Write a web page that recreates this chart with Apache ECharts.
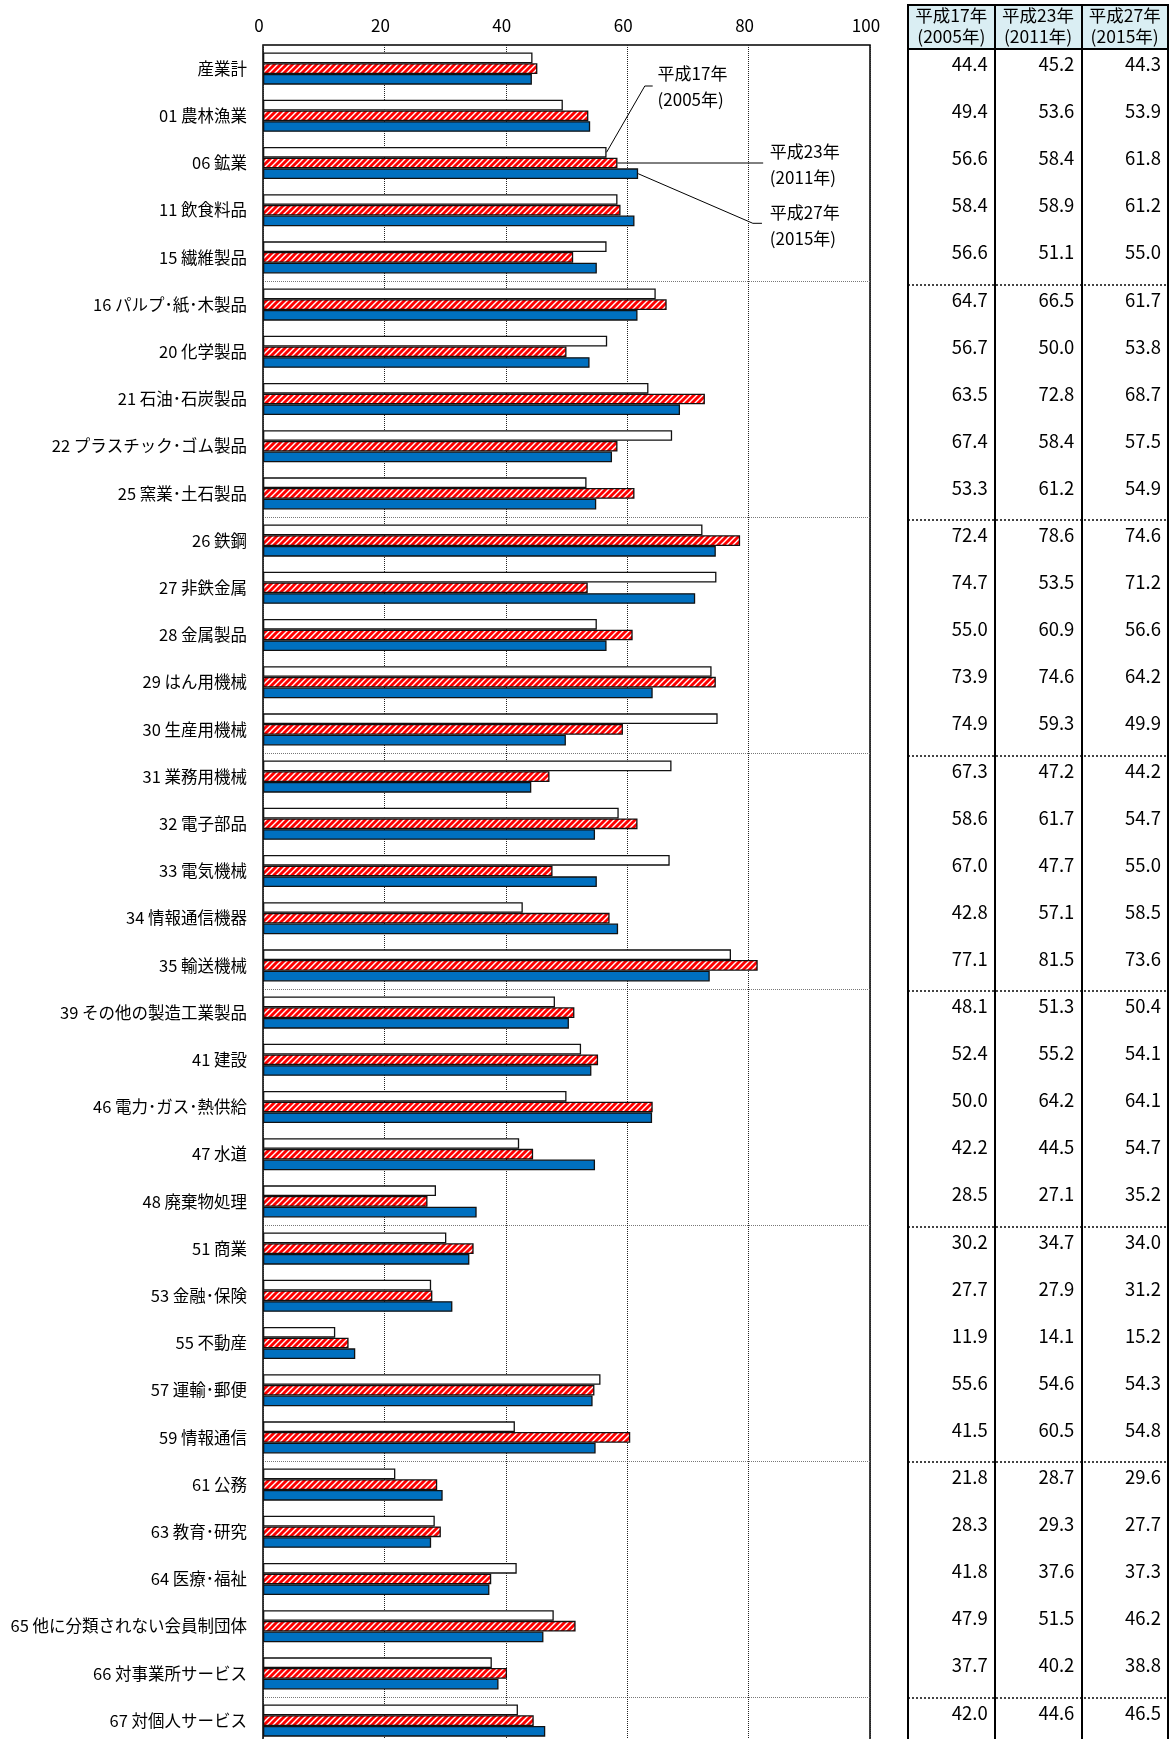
<!DOCTYPE html>
<html lang="ja">
<head>
<meta charset="utf-8">
<title>産業別 比率</title>
<script src="https://cdn.jsdelivr.net/npm/echarts@6/dist/echarts.min.js"></script>
<style>
html, body { margin: 0; padding: 0; background: #ffffff; }
#main { width: 1171px; height: 1739px; }
</style>
</head>
<body>
<div id="main"></div>
<script>
const categories = [
  '産業計', '01 農林漁業', '06 鉱業', '11 飲食料品', '15 繊維製品',
  '16 パルプ･紙･木製品', '20 化学製品', '21 石油･石炭製品', '22 プラスチック･ゴム製品', '25 窯業･土石製品',
  '26 鉄鋼', '27 非鉄金属', '28 金属製品', '29 はん用機械', '30 生産用機械',
  '31 業務用機械', '32 電子部品', '33 電気機械', '34 情報通信機器', '35 輸送機械',
  '39 その他の製造工業製品', '41 建設', '46 電力･ガス･熱供給', '47 水道', '48 廃棄物処理',
  '51 商業', '53 金融･保険', '55 不動産', '57 運輸･郵便', '59 情報通信',
  '61 公務', '63 教育･研究', '64 医療･福祉', '65 他に分類されない会員制団体', '66 対事業所サービス',
  '67 対個人サービス'
]
const v2005 = [
  44.4, 49.4, 56.6, 58.4, 56.6,
  64.7, 56.7, 63.5, 67.4, 53.3,
  72.4, 74.7, 55.0, 73.9, 74.9,
  67.3, 58.6, 67.0, 42.8, 77.1,
  48.1, 52.4, 50.0, 42.2, 28.5,
  30.2, 27.7, 11.9, 55.6, 41.5,
  21.8, 28.3, 41.8, 47.9, 37.7,
  42.0
]
const v2011 = [
  45.2, 53.6, 58.4, 58.9, 51.1,
  66.5, 50.0, 72.8, 58.4, 61.2,
  78.6, 53.5, 60.9, 74.6, 59.3,
  47.2, 61.7, 47.7, 57.1, 81.5,
  51.3, 55.2, 64.2, 44.5, 27.1,
  34.7, 27.9, 14.1, 54.6, 60.5,
  28.7, 29.3, 37.6, 51.5, 40.2,
  44.6
]
const v2015 = [
  44.3, 53.9, 61.8, 61.2, 55.0,
  61.7, 53.8, 68.7, 57.5, 54.9,
  74.6, 71.2, 56.6, 64.2, 49.9,
  44.2, 54.7, 55.0, 58.5, 73.6,
  50.4, 54.1, 64.1, 54.7, 35.2,
  34.0, 31.2, 15.2, 54.3, 54.8,
  29.6, 27.7, 37.3, 46.2, 38.8,
  46.5
]
const headerEra = ['平成17年', '平成23年', '平成27年']
const headerYear = ['(2005年)', '(2011年)', '(2015年)']

const FONT = 'Noto Sans CJK JP'
const BAR_W = 10.7

// 赤白の斜線ハッチ
const makeHatch = () => {
  const c = document.createElement('canvas')
  c.width = 6
  c.height = 6
  const ctx = c.getContext('2d')
  ctx.fillStyle = '#ff0000'
  ctx.fillRect(0, 0, 6, 6)
  ctx.strokeStyle = '#ffffff'
  ctx.lineWidth = 1.4
  ctx.beginPath()
  ctx.moveTo(-1, 7); ctx.lineTo(7, -1)
  ctx.moveTo(-1, 1); ctx.lineTo(1, -1)
  ctx.moveTo(5, 7); ctx.lineTo(7, 5)
  ctx.stroke()
  return c
}

const sepInterval = (i) => i > 0 && i % 5 === 0

const tableData = []
categories.forEach((name, r) => {
  tableData.push([0, r, v2005[r]])
  tableData.push([1, r, v2011[r]])
  tableData.push([2, r, v2015[r]])
})

const chart = echarts.init(document.getElementById('main'))

const option = {
  animation: false,
  backgroundColor: '#ffffff',
  textStyle: { fontFamily: FONT, color: '#000' },
  grid: [
    { // グラフ
      left: 263, top: 45, width: 607, height: 36 * 47.2,
      show: true, borderColor: '#000', borderWidth: 1.5,
      outerBoundsMode: 'none', containLabel: false
    },
    { // 表
      left: 908, top: 49, width: 260, height: 36 * 47.1,
      show: false, outerBoundsMode: 'none', containLabel: false
    },
    { // 表の見出し
      left: 908, top: 5, width: 260, height: 44,
      show: true, backgroundColor: '#DAEEF3', borderColor: '#000', borderWidth: 2,
      outerBoundsMode: 'none', containLabel: false
    }
  ],
  xAxis: [
    {
      type: 'value', gridIndex: 0, position: 'top',
      min: 0, max: 100, interval: 20,
      axisLine: { show: false }, axisTick: { show: false },
      axisLabel: { color: '#000', fontSize: 17, margin: 11, fontFamily: FONT, padding: [0, 8, 0, 0] },
      splitLine: { show: true, lineStyle: { color: '#222', type: 'dotted', width: 1 } }
    },
    {
      type: 'category', gridIndex: 1, data: headerEra,
      axisLine: { show: false }, axisTick: { show: false }, axisLabel: { show: false },
      splitLine: { show: true, interval: 0, lineStyle: { color: '#000', width: 2 } }
    },
    {
      type: 'category', gridIndex: 2, data: headerEra,
      axisLine: { show: false }, axisTick: { show: false }, axisLabel: { show: false },
      splitLine: { show: true, interval: 0, lineStyle: { color: '#000', width: 2 } }
    }
  ],
  yAxis: [
    {
      type: 'category', gridIndex: 0, data: categories, inverse: true,
      axisLine: { show: false }, axisTick: { show: false },
      axisLabel: { interval: 0, margin: 16, color: '#000', fontSize: 16.5, fontFamily: FONT },
      splitLine: { show: true, interval: sepInterval, lineStyle: { color: '#777', type: 'dotted', width: 1 } }
    },
    {
      type: 'category', gridIndex: 1, data: categories, inverse: true,
      axisLine: { show: false }, axisTick: { show: false }, axisLabel: { show: false },
      splitLine: { show: true, interval: sepInterval, lineStyle: { color: '#444', type: 'dotted', width: 2 } }
    },
    {
      type: 'category', gridIndex: 2, data: ['h'],
      axisLine: { show: false }, axisTick: { show: false }, axisLabel: { show: false },
      splitLine: { show: false }
    }
  ],
  series: [
    {
      name: '平成17年(2005年)', type: 'bar', xAxisIndex: 0, yAxisIndex: 0,
      data: v2005, barWidth: BAR_W, barGap: '0%', silent: true,
      itemStyle: { color: '#ffffff', borderColor: '#111', borderWidth: 1.3 }
    },
    {
      name: '平成23年(2011年)', type: 'bar', xAxisIndex: 0, yAxisIndex: 0,
      data: v2011, barWidth: BAR_W, barGap: '0%', silent: true,
      itemStyle: { color: { image: makeHatch(), repeat: 'repeat' }, borderColor: '#111', borderWidth: 1.3 }
    },
    {
      name: '平成27年(2015年)', type: 'bar', xAxisIndex: 0, yAxisIndex: 0,
      data: v2015, barWidth: BAR_W, barGap: '0%', silent: true,
      itemStyle: { color: '#0070C0', borderColor: '#111', borderWidth: 1.3 }
    },
    {
      type: 'custom', xAxisIndex: 2, yAxisIndex: 2, silent: true,
      data: [[0, 0], [1, 0], [2, 0]],
      renderItem: (params, api) => {
        const c = api.coord([api.value(0), api.value(1)])
        const i = api.value(0)
        return {
          type: 'text',
          style: {
            text: headerEra[i] + '\n' + headerYear[i],
            x: c[0], y: c[1] - 1,
            align: 'center', verticalAlign: 'middle',
            lineHeight: 21, fontSize: 17.5, fontFamily: FONT, fill: '#000'
          }
        }
      }
    },
    {
      type: 'custom', xAxisIndex: 1, yAxisIndex: 1, silent: true,
      data: tableData,
      renderItem: (params, api) => {
        const c = api.coord([api.value(0), api.value(1)])
        const s = api.size([1, 1])
        return {
          type: 'text',
          style: {
            text: api.value(2).toFixed(1),
            x: c[0] + s[0] / 2 - 7, y: c[1] - s[1] / 2 + 15,
            align: 'right', verticalAlign: 'middle',
            fontSize: 18.5, fontFamily: FONT, fill: '#000'
          }
        }
      }
    }
  ]
}

chart.setOption(option)

// 引き出し線と注記（06 鉱業の行）
const row = 2
const toPx = (v, r) => chart.convertToPixel({ gridIndex: 0 }, [v, r])
const rowY = toPx(0, row)[1]
const xAt = (v) => toPx(v, row)[0]
const notes = [
  { text: headerEra[0] + '\n' + headerYear[0], pts: [[v2005[row], -BAR_W], [62.9, -77], [64.2, -77]], tx: 65.0, ty: -76 },
  { text: headerEra[1] + '\n' + headerYear[1], pts: [[v2011[row], 0], [82.4, 0]], tx: 83.5, ty: 1.5 },
  { text: headerEra[2] + '\n' + headerYear[2], pts: [[v2015[row], BAR_W], [80.7, 60.3], [82.2, 60.3]], tx: 83.5, ty: 62.5 }
]
const graphic = []
notes.forEach((n) => {
  graphic.push({
    type: 'polyline', silent: true, z: 100,
    shape: { points: n.pts.map((p) => [xAt(p[0]), rowY + p[1]]) },
    style: { stroke: '#000', lineWidth: 1, fill: null }
  })
  graphic.push({
    type: 'text', silent: true, z: 100,
    x: xAt(n.tx), y: rowY + n.ty,
    style: {
      text: n.text, align: 'left', verticalAlign: 'middle',
      lineHeight: 26, fontSize: 17, fontFamily: FONT, fill: '#000'
    }
  })
})
chart.setOption({ graphic: graphic })
</script>
</body>
</html>
